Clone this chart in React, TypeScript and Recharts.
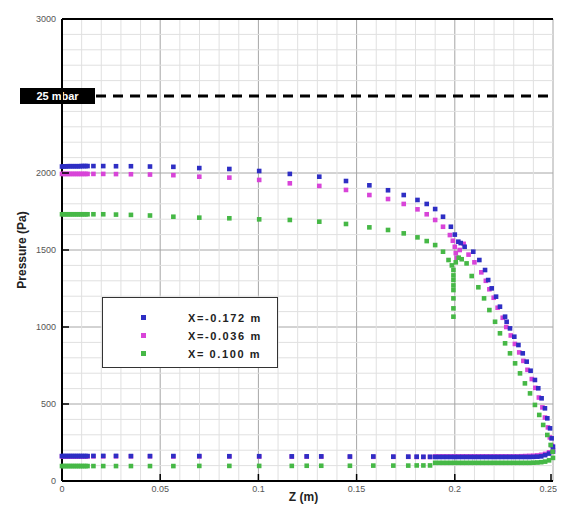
import React from 'react';
import { ScatterChart, Scatter, XAxis, YAxis, CartesianGrid, ReferenceLine, Legend, Label } from 'recharts';

// ---------- data (Z in m, pressure in Pa) ----------
const xTicks = [0, 0.05, 0.1, 0.15, 0.2, 0.25];
const xTickLabels = ['0', '0.05', '0.1', '0.15', '0.2', '0.25'];
const yTicks = [0, 500, 1000, 1500, 2000, 3000];
const minorX = [0.01, 0.02, 0.03, 0.04, 0.06, 0.07, 0.08, 0.09, 0.11, 0.12, 0.13, 0.14, 0.16, 0.17, 0.18, 0.19, 0.21, 0.22, 0.23, 0.24];
const minorY = [100, 200, 300, 400, 600, 700, 800, 900, 1100, 1200, 1300, 1400, 1600, 1700, 1800, 1900, 2100, 2200, 2300, 2400, 2600, 2700, 2800, 2900];
const limitPa = 2500;
const limitLabel = '25 mbar';

const seriesNames = ['X=-0.172 m', 'X=-0.036 m', 'X= 0.100 m'];

const blueUpper: [number, number][] = [
  [0, 2042], [0.001, 2043], [0.002, 2043], [0.003, 2044], [0.004, 2044], [0.005, 2044], [0.006, 2044],
  [0.007, 2044], [0.008, 2044], [0.009, 2044], [0.01, 2045], [0.011, 2045], [0.012, 2045], [0.013, 2045],
  [0.016, 2045], [0.021, 2045], [0.0275, 2044], [0.0351, 2044], [0.0448, 2042], [0.0567, 2040], [0.0699, 2032],
  [0.0852, 2026], [0.1004, 2013], [0.116, 1994], [0.131, 1976], [0.1446, 1948], [0.1565, 1920], [0.166, 1888],
  [0.174, 1857], [0.181, 1825], [0.1857, 1799], [0.19, 1766], [0.194, 1716], [0.198, 1651], [0.2, 1600],
  [0.2018, 1554], [0.203, 1545], [0.205, 1521], [0.2094, 1489], [0.2125, 1435], [0.2154, 1370], [0.217, 1305],
  [0.2188, 1251], [0.221, 1197], [0.223, 1132], [0.2256, 1067], [0.2264, 1034], [0.2281, 991], [0.2303, 937],
  [0.2324, 883], [0.2346, 829], [0.2366, 775], [0.2386, 716], [0.2408, 656], [0.2425, 602], [0.2442, 537],
  [0.2459, 472], [0.2471, 407], [0.2485, 342], [0.2493, 277], [0.25, 223],
];

const magentaUpper: [number, number][] = [
  [0, 1994], [0.001, 1994], [0.002, 1994], [0.003, 1994], [0.004, 1994], [0.005, 1994], [0.006, 1994],
  [0.007, 1994], [0.008, 1994], [0.009, 1994], [0.01, 1994], [0.011, 1994], [0.012, 1994], [0.013, 1994],
  [0.016, 1994], [0.021, 1994], [0.0275, 1993], [0.0351, 1992], [0.0448, 1990], [0.0567, 1986], [0.0699, 1976],
  [0.0852, 1970], [0.1004, 1955], [0.116, 1933], [0.131, 1916], [0.1446, 1890], [0.1565, 1857], [0.166, 1831],
  [0.174, 1799], [0.181, 1764], [0.1857, 1732], [0.19, 1695], [0.194, 1651], [0.1975, 1597], [0.199, 1560],
  [0.2, 1521], [0.2005, 1480], [0.201, 1450], [0.2025, 1500], [0.2045, 1540], [0.207, 1470], [0.21, 1420],
  [0.2135, 1355], [0.2158, 1300], [0.2176, 1245], [0.2198, 1190], [0.2218, 1125], [0.2244, 1060], [0.2262, 1000],
  [0.2285, 945], [0.2306, 890], [0.2328, 835], [0.2349, 780], [0.237, 722], [0.2392, 662], [0.241, 605],
  [0.2428, 542], [0.2446, 478], [0.2459, 412], [0.2474, 348], [0.2484, 283], [0.2494, 230],
];

const greenUpper: [number, number][] = [
  [0, 1732], [0.001, 1732], [0.002, 1732], [0.003, 1732], [0.004, 1732], [0.005, 1732], [0.006, 1732],
  [0.007, 1732], [0.008, 1732], [0.009, 1732], [0.01, 1732], [0.011, 1732], [0.012, 1732], [0.013, 1732],
  [0.016, 1732], [0.021, 1732], [0.0275, 1730], [0.0351, 1728], [0.0448, 1724], [0.0567, 1716], [0.0699, 1710],
  [0.0852, 1706], [0.1004, 1699], [0.116, 1695], [0.131, 1684], [0.1446, 1669], [0.1565, 1647], [0.166, 1630],
  [0.174, 1608], [0.181, 1582], [0.1857, 1558], [0.19, 1532], [0.194, 1489], [0.1968, 1435], [0.1985, 1400],
  [0.1993, 1370], [0.1993, 1335], [0.1993, 1305], [0.1993, 1270], [0.1993, 1240], [0.1993, 1186], [0.1993, 1121],
  [0.1993, 1067], [0.2005, 1420], [0.202, 1450], [0.2035, 1440], [0.206, 1413], [0.2086, 1331], [0.212, 1258],
  [0.2149, 1186], [0.2176, 1110], [0.2205, 1034], [0.223, 959], [0.2256, 894], [0.2281, 829], [0.2307, 764],
  [0.2332, 699], [0.2357, 634], [0.2383, 569], [0.2408, 494], [0.243, 429], [0.245, 364], [0.2471, 299],
  [0.2488, 234], [0.2498, 190],
];

const lowerZ = [
  0, 0.001, 0.002, 0.003, 0.004, 0.005, 0.006, 0.007, 0.008, 0.009, 0.01, 0.011, 0.012, 0.013,
  0.016, 0.021, 0.0275, 0.0351, 0.0448, 0.0567, 0.0699, 0.0852, 0.1004, 0.117, 0.1246, 0.132, 0.1466,
  0.1585, 0.1687, 0.1763, 0.1806, 0.184, 0.1874,
  0.19, 0.192, 0.194, 0.196, 0.198, 0.2, 0.202, 0.204, 0.206, 0.208, 0.21, 0.212, 0.214, 0.216, 0.218,
  0.22, 0.222, 0.224, 0.226, 0.228, 0.23, 0.232, 0.234, 0.236, 0.238, 0.24, 0.242, 0.244, 0.246, 0.248, 0.25,
];

const blueLower = [
  162, 162, 162, 162, 162, 162, 162, 162, 162, 162, 162, 162, 162, 162,
  163, 163, 163, 162, 162, 162, 162, 161, 161, 160, 160, 160, 159, 159, 158, 158, 158, 157, 157,
  156, 156, 156, 156, 156, 156, 156, 156, 156, 156, 156, 156, 156, 156, 156,
  156, 156, 156, 156, 156, 156, 156, 156, 156, 156, 157, 158, 160, 168, 178, 190,
];

const magentaLower = [
  160, 160, 160, 160, 160, 160, 160, 160, 160, 160, 160, 160, 160, 160,
  160, 160, 160, 160, 160, 159, 159, 159, 158, 158, 158, 158, 157, 157, 157, 157, 156, 156, 156,
  160, 160, 160, 160, 160, 160, 160, 160, 160, 160, 160, 160, 160, 160, 160,
  160, 160, 160, 160, 160, 160, 160, 161, 162, 163, 164, 166, 170, 176, 186, 200,
];

const greenLower = [
  97, 97, 97, 97, 97, 97, 97, 97, 97, 97, 97, 97, 97, 97,
  97, 97, 97, 97, 97, 97, 98, 98, 98, 98, 99, 99, 99, 100, 100, 100, 101, 101, 101,
  118, 118, 118, 118, 118, 118, 118, 118, 118, 118, 118, 118, 118, 118, 118,
  118, 118, 118, 118, 118, 118, 118, 118, 118, 118, 119, 120, 122, 126, 134, 150,
];

// ---------- helpers ----------
const COLORS = { blue: '#2e2ec4', magenta: '#d844d8', green: '#46b846' };
const FONT = '"Liberation Sans", Arial, sans-serif';

const pts = (arr: [number, number][]) => arr.map(([z, p]) => ({ z, p }));
const lowerPts = (vals: number[]) => lowerZ.map((z, i) => ({ z, p: vals[i] }));

const blueData = [...pts(blueUpper), ...lowerPts(blueLower)];
const magentaData = [...pts(magentaUpper), ...lowerPts(magentaLower)];
const greenData = [...pts(greenUpper), ...lowerPts(greenLower)];

const makeSquare = (color: string) => (props: any) => {
  const { cx, cy } = props;
  if (cx == null || cy == null) return <g />;
  return <rect x={cx - 2.3} y={cy - 2.3} width={4.6} height={4.6} fill={color} />;
};

const XTick = (props: any) => {
  const { x, y, payload } = props;
  const idx = xTicks.indexOf(payload.value);
  const last = idx === xTicks.length - 1;
  return (
    <g>
      <line x1={x} x2={x} y1={y - 5} y2={y - 12} stroke="#000" strokeWidth={1.5} />
      <text x={last ? x + 6 : x} y={y} dy="0.71em" textAnchor={last ? 'end' : 'middle'} fontSize={9} fill="#555" fontFamily={FONT}>
        {idx >= 0 ? xTickLabels[idx] : payload.value}
      </text>
    </g>
  );
};

const YTick = (props: any) => {
  const { x, y, payload } = props;
  return (
    <g>
      <line x1={x + 6} x2={x + 13} y1={y} y2={y} stroke="#000" strokeWidth={1.5} />
      <text x={x} y={y} dy="0.355em" textAnchor="end" fontSize={9} fill="#555" fontFamily={FONT}>
        {payload.value}
      </text>
    </g>
  );
};

const XLabel = (props: any) => {
  const vb = props.viewBox;
  return (
    <text x={vb.x + vb.width / 2 - 4} y={vb.y + 20} textAnchor="middle" fontSize={12} fontWeight="bold" fill="#222" fontFamily={FONT}>
      Z (m)
    </text>
  );
};

const YLabel = (props: any) => {
  const vb = props.viewBox;
  const cx = vb.x + 14;
  const cy = vb.y + vb.height / 2;
  return (
    <text x={cx} y={cy} transform={`rotate(-90, ${cx}, ${cy})`} textAnchor="middle" dominantBaseline="central" fontSize={12} fontWeight="bold" fill="#222" fontFamily={FONT}>
      Pressure (Pa)
    </text>
  );
};

const MbarLabel = (props: any) => {
  const vb = props.viewBox;
  return (
    <g>
      <rect x={vb.x - 42} y={vb.y - 8} width={75} height={16} fill="#000" />
      <text x={vb.x - 4.5} y={vb.y} textAnchor="middle" dominantBaseline="central" fontSize={11} fontWeight="bold" fill="#fff" fontFamily={FONT}>
        {limitLabel}
      </text>
    </g>
  );
};

const LegendBox = () => {
  const colors = [COLORS.blue, COLORS.magenta, COLORS.green];
  const rows = [20, 38, 56];
  return (
    <div style={{ position: 'relative', width: 176, height: 71, border: '1px solid #333', background: '#fff', boxSizing: 'border-box', fontFamily: FONT }}>
      {seriesNames.map((n, i) => (
        <React.Fragment key={n}>
          <div style={{ position: 'absolute', left: 38, top: rows[i] - 3, width: 5, height: 5, background: colors[i] }} />
          <div style={{ position: 'absolute', left: 85, top: rows[i] - 8, fontSize: 11, fontWeight: 'bold', letterSpacing: 1.6, color: '#222', whiteSpace: 'nowrap', lineHeight: '16px' }}>
            {n}
          </div>
        </React.Fragment>
      ))}
    </div>
  );
};

export default function App() {
  return (
    <div style={{ width: 557, height: 500, background: '#fff' }}>
      <ScatterChart width={557} height={500} margin={{ top: 11, right: 12, bottom: 0, left: 0 }} style={{ overflow: 'visible' }}>
        <CartesianGrid stroke="#a6a6a6" strokeWidth={1} />
        {minorX.map((v) => (
          <ReferenceLine key={'mx' + v} x={v} stroke="#e0e0e0" strokeWidth={1} />
        ))}
        {minorY.map((v) => (
          <ReferenceLine key={'my' + v} y={v} stroke="#e0e0e0" strokeWidth={1} />
        ))}
        <XAxis
          type="number"
          dataKey="z"
          domain={[0, 0.25]}
          ticks={xTicks}
          axisLine={{ stroke: '#000', strokeWidth: 2 }}
          tickLine={false}
          tickSize={0}
          tickMargin={5}
          height={27}
          tick={<XTick />}
          label={<Label content={<XLabel />} />}
        />
        <YAxis
          type="number"
          dataKey="p"
          domain={[0, 3000]}
          ticks={yTicks}
          axisLine={{ stroke: '#000', strokeWidth: 2 }}
          tickLine={false}
          tickSize={0}
          tickMargin={6}
          width={54}
          tick={<YTick />}
          label={<Label content={<YLabel />} />}
        />
        <ReferenceLine y={3000} stroke="#000" strokeWidth={2} />
        <ReferenceLine y={limitPa} stroke="#000" strokeWidth={3} strokeDasharray="10 7" label={<MbarLabel />} />
        <Legend layout="vertical" align="center" verticalAlign="middle" content={<LegendBox />} wrapperStyle={{ position: 'absolute', left: 94, top: 289, width: 176, height: 71, margin: 0 }} />
        <Scatter name={seriesNames[1]} data={magentaData} fill={COLORS.magenta} shape={makeSquare(COLORS.magenta)} isAnimationActive={false} />
        <Scatter name={seriesNames[0]} data={blueData} fill={COLORS.blue} shape={makeSquare(COLORS.blue)} isAnimationActive={false} />
        <Scatter name={seriesNames[2]} data={greenData} fill={COLORS.green} shape={makeSquare(COLORS.green)} isAnimationActive={false} />
      </ScatterChart>
    </div>
  );
}
